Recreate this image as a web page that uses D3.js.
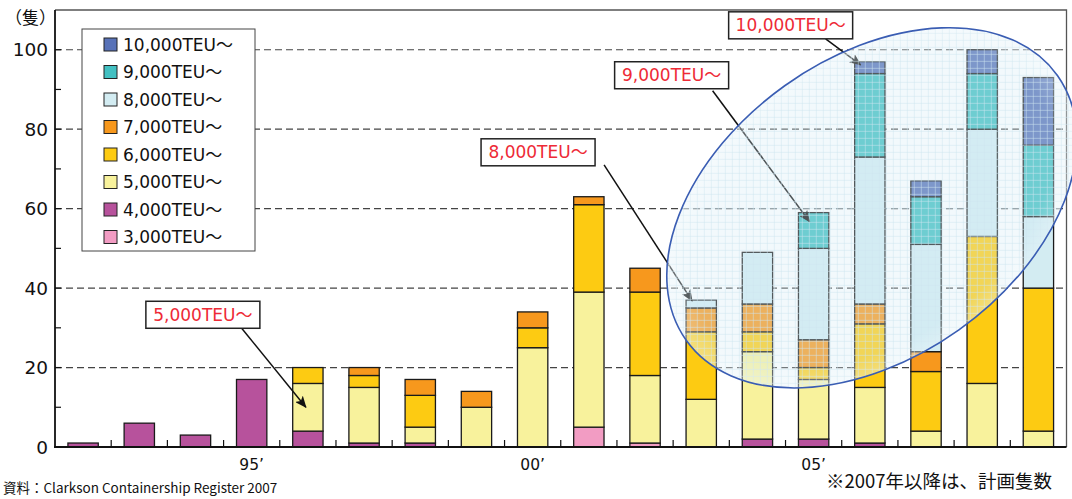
<!DOCTYPE html>
<html>
<head>
<meta charset="utf-8">
<script src="https://cdn.jsdelivr.net/npm/d3@7"></script>
<style>
  body { margin: 0; background: #fff; }
  svg { display: block; }
  text { font-family: "DejaVu Sans", "Noto Sans CJK JP", sans-serif; }
  .jp { font-family: "Noto Sans CJK JP", sans-serif; }
</style>
</head>
<body>
<svg id="chart" width="1072" height="499"></svg>
<script>
// Container ships delivered per year, by size class (ships)
const years = [1992, 1993, 1994, 1995, 1996, 1997, 1998, 1999, 2000,
               2001, 2002, 2003, 2004, 2005, 2006, 2007, 2008, 2009];
const teu3000  = [0, 0, 0, 0, 0, 0, 0, 0, 0, 5, 1, 0, 0, 0, 0, 0, 0, 0];
const teu4000  = [1, 6, 3, 17, 4, 1, 1, 0, 0, 0, 0, 0, 2, 2, 1, 0, 0, 0];
const teu5000  = [0, 0, 0, 0, 12, 14, 4, 10, 25, 34, 17, 12, 22, 15, 14, 4, 16, 4];
const teu6000  = [0, 0, 0, 0, 4, 3, 8, 0, 5, 22, 21, 17, 5, 3, 16, 15, 37, 36];
const teu7000  = [0, 0, 0, 0, 0, 2, 4, 4, 4, 2, 6, 6, 7, 7, 5, 5, 0, 0];
const teu8000  = [0, 0, 0, 0, 0, 0, 0, 0, 0, 0, 0, 2, 13, 23, 37, 27, 27, 18];
const teu9000  = [0, 0, 0, 0, 0, 0, 0, 0, 0, 0, 0, 0, 0, 9, 21, 12, 14, 18];
const teu10000 = [0, 0, 0, 0, 0, 0, 0, 0, 0, 0, 0, 0, 0, 0, 3, 4, 6, 17];

const seriesKeys   = ["s3000", "s4000", "s5000", "s6000", "s7000", "s8000", "s9000", "s10000"];
const seriesLabels = ["3,000TEU〜", "4,000TEU〜", "5,000TEU〜", "6,000TEU〜",
                      "7,000TEU〜", "8,000TEU〜", "9,000TEU〜", "10,000TEU〜"];
const seriesColors = ["#f29cc3", "#b7529c", "#f8f29c", "#fdcb12",
                      "#f7981d", "#d3ecf2", "#42c0c2", "#5872b8"];

const yTicks = [0, 20, 40, 60, 80, 100];
const yMinorTicks = [0, 10, 20, 30, 40, 50, 60, 70, 80, 90, 100];
const xLabelYears = [1995, 2000, 2005];
const xLabelText = ["95’", "00’", "05’"];

// Callouts: arrow tip at (year, value), label box offset from the tip
const calloutText  = ["5,000TEU〜", "8,000TEU〜", "9,000TEU〜", "10,000TEU〜"];
const calloutYear  = [1996, 2003, 2005, 2006];
const calloutValue = [10, 36.8, 56.7, 96.2];

const rows = years.map((yr, i) => ({
  year: yr,
  s3000: teu3000[i], s4000: teu4000[i], s5000: teu5000[i], s6000: teu6000[i],
  s7000: teu7000[i], s8000: teu8000[i], s9000: teu9000[i], s10000: teu10000[i]
}));

const svg = d3.select("#chart");
const plot = { left: 55, right: 1066.5, top: 10, bottom: 447 };

const x = d3.scaleBand()
  .domain(years)
  .range([plot.left, plot.right])
  .paddingInner(0.46)
  .paddingOuter(0.23);

const y = d3.scaleLinear()
  .domain([0, 110])
  .range([plot.bottom, plot.top]);

const color = d3.scaleOrdinal().domain(seriesKeys).range(seriesColors);

const ellipseAngle = -35.5;
const defs = svg.append("defs");

// grid texture used inside the highlight ellipse (kept axis-aligned)
const pat = defs.append("pattern")
  .attr("id", "gridTex")
  .attr("width", 7).attr("height", 7)
  .attr("patternUnits", "userSpaceOnUse")
  .attr("patternTransform", `rotate(${-ellipseAngle})`);
pat.append("rect").attr("width", 7).attr("height", 7).attr("fill", "rgba(212,234,245,0.3)");
pat.append("path")
  .attr("d", "M0 0.5H7M0.5 0V7")
  .attr("stroke", "rgba(205,230,240,0.5)")
  .attr("stroke-width", 1);

// soft light rim inside the ellipse edge
const glow = defs.append("radialGradient").attr("id", "rimGlow");
glow.append("stop").attr("offset", "0.88").attr("stop-color", "#fff").attr("stop-opacity", 0);
glow.append("stop").attr("offset", "1").attr("stop-color", "#fff").attr("stop-opacity", 0.22);

defs.append("marker")
  .attr("id", "arrowHead")
  .attr("viewBox", "0 0 12 10")
  .attr("refX", 11).attr("refY", 5)
  .attr("markerWidth", 12).attr("markerHeight", 10)
  .attr("markerUnits", "userSpaceOnUse")
  .attr("orient", "auto")
  .append("path")
  .attr("d", "M0,0 L12,5 L0,10 L3,5 Z")
  .attr("fill", "#111");

// dashed gridlines
svg.append("g")
  .selectAll("line")
  .data(yTicks.filter(d => d > 0))
  .join("line")
  .attr("x1", plot.left).attr("x2", plot.right)
  .attr("y1", d => y(d)).attr("y2", d => y(d))
  .attr("stroke", "#444")
  .attr("stroke-width", 1.2)
  .attr("stroke-dasharray", "7,4");

// frame (top and right)
svg.append("path")
  .attr("d", `M${plot.left},${plot.top}H${plot.right}V${plot.bottom}`)
  .attr("fill", "none")
  .attr("stroke", "#555")
  .attr("stroke-width", 1.3);

// stacked bars
const stacked = d3.stack().keys(seriesKeys)(rows);
const barG = svg.append("g");
stacked.forEach(layer => {
  barG.append("g")
    .selectAll("rect")
    .data(layer.filter(d => d[1] - d[0] > 0))
    .join("rect")
    .attr("x", d => x(d.data.year))
    .attr("width", x.bandwidth())
    .attr("y", d => y(d[1]))
    .attr("height", d => y(d[0]) - y(d[1]))
    .attr("fill", color(layer.key))
    .attr("stroke", "#1a1a1a")
    .attr("stroke-width", 1.3);
});

// axes
svg.append("line")
  .attr("x1", plot.left).attr("x2", plot.left)
  .attr("y1", plot.top).attr("y2", plot.bottom)
  .attr("stroke", "#111").attr("stroke-width", 1.8);
svg.append("line")
  .attr("x1", plot.left - 1).attr("x2", plot.right)
  .attr("y1", plot.bottom).attr("y2", plot.bottom)
  .attr("stroke", "#111").attr("stroke-width", 2);

svg.append("g").selectAll("line")
  .data(yMinorTicks)
  .join("line")
  .attr("x1", plot.left).attr("x2", plot.left + 6)
  .attr("y1", d => y(d)).attr("y2", d => y(d))
  .attr("stroke", "#111").attr("stroke-width", 1.2);

svg.append("g").selectAll("text")
  .data(yTicks)
  .join("text")
  .attr("x", 48)
  .attr("y", d => y(d))
  .attr("dy", "0.36em")
  .attr("text-anchor", "end")
  .attr("font-size", 18.5)
  .attr("fill", "#111")
  .text(d => d);

svg.append("text")
  .attr("class", "jp")
  .attr("x", 5).attr("y", 24)
  .attr("font-size", 17)
  .attr("fill", "#111")
  .text("（隻）");

// x ticks between categories
const step = x.step();
svg.append("g").selectAll("line")
  .data(years.slice(1))
  .join("line")
  .attr("x1", d => x(d) - (step - x.bandwidth()) / 2)
  .attr("x2", d => x(d) - (step - x.bandwidth()) / 2)
  .attr("y1", plot.bottom).attr("y2", plot.bottom - 7)
  .attr("stroke", "#111").attr("stroke-width", 1.2);

svg.append("g").selectAll("text")
  .data(xLabelYears)
  .join("text")
  .attr("x", d => x(d) + x.bandwidth() / 2)
  .attr("y", 470)
  .attr("text-anchor", "middle")
  .attr("font-size", 15.5)
  .attr("fill", "#111")
  .text((d, i) => xLabelText[i]);

// callout arrows
const calloutBox = [
  { dx: -160, dy: -106, w: 114, h: 27, ax: -65, ay: -80 },
  { dx: -211, dy: -162, w: 114, h: 27, ax: -88, ay: -136 },
  { dx: -195, dy: -160, w: 114, h: 27, ax: -97, ay: -131 },
  { dx: -132, dy: -53, w: 124, h: 27, ax: -35, ay: -26 }
];
const tips = calloutYear.map((yr, i) => ({
  tx: x(yr) + (i === 0 ? x.bandwidth() / 2 - 2 : i === 2 ? x.bandwidth() / 2 - 4 : 6),
  ty: y(calloutValue[i])
}));

function drawArrow(g, i) {
  const t = tips[i], b = calloutBox[i];
  g.append("line")
    .attr("x1", t.tx + b.ax).attr("y1", t.ty + b.ay)
    .attr("x2", t.tx).attr("y2", t.ty)
    .attr("stroke", "#111").attr("stroke-width", 1.5)
    .attr("marker-end", "url(#arrowHead)");
}
const arrowG = svg.append("g");
[1, 2, 3].forEach(i => drawArrow(arrowG, i));

// highlight ellipse around the large-ship years
const ecx = x(2006) + x.bandwidth() / 2 + 2;
const ecy = y(60.2);
const ellipseG = svg.append("g")
  .attr("transform", `translate(${ecx},${ecy}) rotate(${ellipseAngle})`);
ellipseG.append("ellipse")
  .attr("rx", 228).attr("ry", 150)
  .attr("fill", "url(#gridTex)");
ellipseG.append("ellipse")
  .attr("rx", 228).attr("ry", 150)
  .attr("fill", "url(#rimGlow)")
  .attr("stroke", "#3a5db3")
  .attr("stroke-width", 1.6);

drawArrow(svg.append("g"), 0);

// callout labels
const labelG = svg.append("g");
calloutText.forEach((txt, i) => {
  const t = tips[i], b = calloutBox[i];
  const bx = t.tx + b.dx, by = t.ty + b.dy;
  labelG.append("rect")
    .attr("x", bx).attr("y", by)
    .attr("width", b.w).attr("height", b.h)
    .attr("fill", "#fff")
    .attr("stroke", "#222").attr("stroke-width", 1.5);
  labelG.append("text")
    .attr("x", bx + b.w / 2).attr("y", by + b.h / 2)
    .attr("dy", "0.36em")
    .attr("text-anchor", "middle")
    .attr("font-size", 17)
    .attr("fill", "#ee2a36")
    .text(txt);
});

// legend
const legend = svg.append("g");
legend.append("rect")
  .attr("x", 82).attr("y", 29)
  .attr("width", 173).attr("height", 222)
  .attr("fill", "#fff")
  .attr("stroke", "#444").attr("stroke-width", 1);
const legendOrder = seriesKeys.slice().reverse();
legendOrder.forEach((k, i) => {
  const cy = 44.5 + i * 27.5;
  legend.append("rect")
    .attr("x", 104).attr("y", cy - 6.5)
    .attr("width", 13).attr("height", 13)
    .attr("fill", color(k))
    .attr("stroke", "#222").attr("stroke-width", 1);
  legend.append("text")
    .attr("x", 123).attr("y", cy)
    .attr("dy", "0.36em")
    .attr("font-size", 17)
    .attr("fill", "#111")
    .text(seriesLabels[seriesKeys.indexOf(k)]);
});

// source and footnote
svg.append("text")
  .attr("class", "jp")
  .attr("x", 3).attr("y", 493)
  .attr("font-size", 13.5)
  .attr("fill", "#111")
  .text("資料：Clarkson Containership Register 2007");
svg.append("text")
  .attr("class", "jp")
  .attr("x", 826).attr("y", 488)
  .attr("font-size", 18.5)
  .attr("fill", "#111")
  .text("※2007年以降は、計画隻数");
</script>
</body>
</html>
